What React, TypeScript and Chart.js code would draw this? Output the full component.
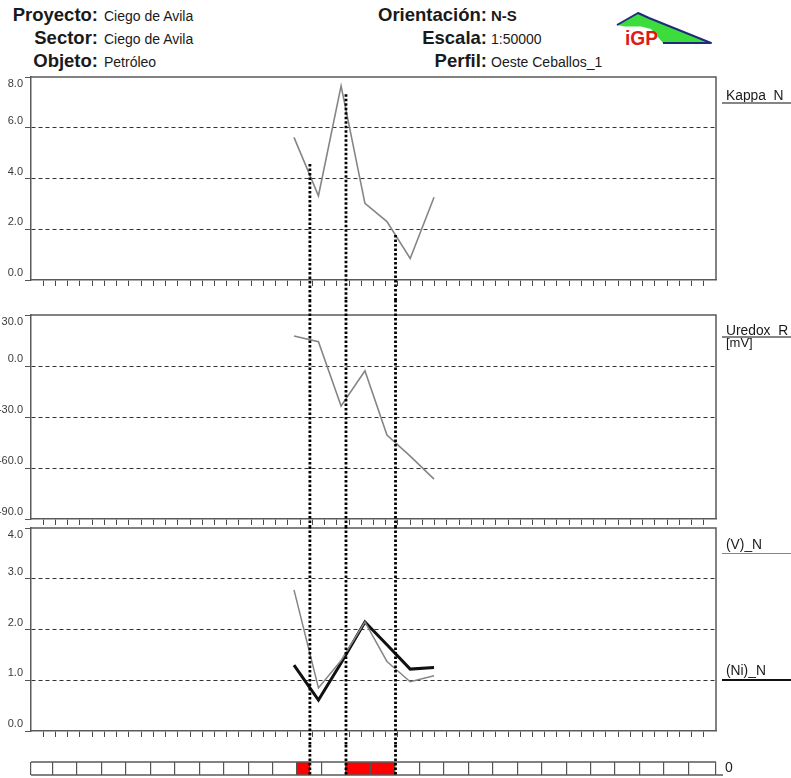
import React, { useEffect, useRef } from 'react';
import { Chart, registerables } from 'chart.js';

Chart.register(...registerables);

const FONT = "'Liberation Sans', Arial, Helvetica, sans-serif";
Chart.defaults.font.family = FONT;

// ---------------- data ----------------
const stations = [21.5, 23.5, 25.35, 27.3, 29.1, 31.0, 32.95];
const kappaN = [5.62, 3.32, 7.65, 3.02, 2.3, 0.85, 3.26];
const uredoxR = [17.6, 14.3, -23.5, -2.8, -40.6, -53.0, -66.5];
const vN = [2.78, 0.85, 1.39, 2.15, 1.37, 0.97, 1.09];
const niN = [1.3, 0.61, 1.34, 2.15, 1.7, 1.22, 1.25];

const kappaTicks = [0, 2, 4, 6, 8];
const uredoxTicks = [-90, -60, -30, 0, 30];
const metalTicks = [0, 1, 2, 3, 4];

const profileMin = 0;
const profileMax = 56;
const anomalyEdges = [22.8, 25.75, 29.8];
const anomalyEdgeTopKappa = [4.57, 7.32, 1.77];
const anomalyZones: [number, number][] = [
  [21.75, 22.8],
  [25.75, 29.75],
];
const stripLabels = ['0'];

const headerLeft = [
  { label: 'Proyecto:', value: 'Ciego de Avila' },
  { label: 'Sector:', value: 'Ciego de Avila' },
  { label: 'Objeto:', value: 'Petróleo' },
];
const headerRight = [
  { label: 'Orientación:', value: 'N-S', bold: true },
  { label: 'Escala:', value: '1:50000', bold: false },
  { label: 'Perfil:', value: 'Oeste Ceballos_1', bold: false },
];
// ---------------------------------------

const BORDER = '#5a5a5a';
const W = 791;

const xTickPositions: number[] = [];
for (let v = profileMin + 1; v < profileMax; v++) xTickPositions.push(v);
const boxEdges: number[] = [profileMin];
for (let v = 1.75; v < profileMax - 1; v += 2) boxEdges.push(v);
boxEdges.push(profileMax);

const pts = (ys: number[]) => stations.map((x, i) => ({ x, y: ys[i] }));

function drawDotted(ctx: any, px: number, top: number, bottom: number) {
  ctx.beginPath();
  ctx.moveTo(px, top);
  ctx.lineTo(px, bottom);
  ctx.stroke();
}

function panelPlugin(min: number, max: number, ticks: number[], edgeTop: number[] | null) {
  return {
    id: 'panelDeco',
    afterDatasetsDraw(chart: any) {
      const { ctx, chartArea: a, scales } = chart;
      const y = scales.y;
      const x = scales.x;
      ctx.save();
      ctx.strokeStyle = BORDER;
      ctx.lineWidth = 1.5;
      ctx.beginPath();
      ctx.moveTo(a.left - 0.75, a.top);
      ctx.lineTo(a.right, a.top);
      ctx.lineTo(a.right, a.bottom);
      ctx.stroke();

      ctx.fillStyle = '#3a3a3a';
      ctx.font = `11px ${FONT}`;
      ctx.textAlign = 'right';
      ctx.textBaseline = 'middle';
      for (const v of ticks) {
        const py = v === max ? a.top + 7 : y.getPixelForValue(v) - 7;
        ctx.fillText(v.toFixed(1), 23, py);
      }

      ctx.strokeStyle = '#000';
      ctx.lineWidth = 2.8;
      ctx.setLineDash([2.5, 2]);
      anomalyEdges.forEach((e, i) => {
        const px = x.getPixelForValue(e);
        const top = edgeTop ? y.getPixelForValue(edgeTop[i]) : 0;
        drawDotted(ctx, px, top, chart.height);
      });
      ctx.restore();
    },
  };
}

function panelConfig(p: {
  datasets: any[];
  min: number;
  max: number;
  ticks: number[];
  padTop: number;
  xAxisH: number;
  edgeTop: number[] | null;
}) {
  return {
    type: 'line',
    data: { datasets: p.datasets },
    options: {
      responsive: false,
      animation: false,
      devicePixelRatio: 1,
      layout: { padding: { top: p.padTop, right: W - 716, bottom: 0, left: 0 } },
      plugins: { legend: { display: false }, tooltip: { enabled: false } },
      elements: { point: { radius: 0 }, line: { tension: 0 } },
      scales: {
        x: {
          type: 'linear',
          min: profileMin,
          max: profileMax,
          afterBuildTicks: (s: any) => {
            s.ticks = xTickPositions.map((v) => ({ value: v }));
          },
          afterFit: (s: any) => {
            s.height = p.xAxisH;
            s.paddingLeft = 0;
            s.paddingRight = 0;
          },
          ticks: { display: false },
          grid: { drawOnChartArea: false, drawTicks: true, tickLength: 6, color: '#4a4a4a', lineWidth: 1 },
          border: { color: BORDER, width: 1.5 },
        },
        y: {
          type: 'linear',
          min: p.min,
          max: p.max,
          afterBuildTicks: (s: any) => {
            s.ticks = p.ticks.map((v) => ({ value: v }));
          },
          afterFit: (s: any) => {
            s.width = 31;
            s.paddingTop = 0;
            s.paddingBottom = 0;
          },
          ticks: { display: false },
          grid: {
            color: (c: any) =>
              c.tick && (c.tick.value === p.max || c.tick.value === p.min) ? 'rgba(0,0,0,0)' : '#333',
            tickColor: '#555',
            tickLength: 6,
            lineWidth: 1,
          },
          border: { color: BORDER, width: 1.5, dash: [4, 3] },
        },
      },
    },
    plugins: [panelPlugin(p.min, p.max, p.ticks, p.edgeTop)],
  };
}

const stripPlugin = {
  id: 'stripDeco',
  afterDraw(chart: any) {
    const { ctx, chartArea: a, scales } = chart;
    ctx.save();
    ctx.strokeStyle = BORDER;
    ctx.lineWidth = 1.5;
    ctx.beginPath();
    ctx.moveTo(a.left, a.top);
    ctx.lineTo(a.right, a.top);
    ctx.moveTo(a.left, a.bottom);
    ctx.lineTo(a.right + 7, a.bottom);
    ctx.stroke();
    ctx.strokeStyle = '#000';
    ctx.lineWidth = 2.8;
    ctx.setLineDash([2.5, 2]);
    anomalyEdges.forEach((e) => {
      drawDotted(ctx, scales.x.getPixelForValue(e), 0, a.bottom);
    });
    ctx.restore();
  },
};

function stripConfig() {
  return {
    type: 'bar',
    data: {
      labels: stripLabels,
      datasets: anomalyZones.map((z) => ({
        data: [z],
        backgroundColor: '#ff0000',
        borderWidth: 0,
        grouped: false,
        barPercentage: 1,
        categoryPercentage: 1,
      })),
    },
    options: {
      indexAxis: 'y',
      responsive: false,
      animation: false,
      devicePixelRatio: 1,
      layout: { padding: { top: 17, right: 0, bottom: 0, left: 31 } },
      plugins: { legend: { display: false }, tooltip: { enabled: false } },
      scales: {
        x: {
          type: 'linear',
          min: profileMin,
          max: profileMax,
          afterBuildTicks: (s: any) => {
            s.ticks = boxEdges.map((v) => ({ value: v }));
          },
          afterFit: (s: any) => {
            s.height = 3;
            s.paddingLeft = 0;
            s.paddingRight = 0;
          },
          ticks: { display: false },
          grid: { drawTicks: false, color: '#555', lineWidth: 1.2, z: 1 },
          border: { display: false },
        },
        y: {
          position: 'right',
          afterFit: (s: any) => {
            s.width = W - 716;
            s.paddingTop = 0;
            s.paddingBottom = 0;
          },
          grid: { display: false, drawTicks: false },
          border: { display: false },
          ticks: { padding: 9, color: '#222', font: { family: FONT, size: 14 } },
        },
      },
    },
    plugins: [stripPlugin],
  };
}

function ChartCanvas({ top, height, build }: { top: number; height: number; build: () => any }) {
  const ref = useRef<HTMLCanvasElement>(null);
  useEffect(() => {
    const chart = new Chart(ref.current as HTMLCanvasElement, build());
    return () => chart.destroy();
  }, []);
  return (
    <canvas
      ref={ref}
      width={W}
      height={height}
      style={{ position: 'absolute', left: 0, top, width: W, height, display: 'block' }}
    />
  );
}

const GRAY_LINE = '#858585';

const buildKappa = () =>
  panelConfig({
    datasets: [{ data: pts(kappaN), borderColor: GRAY_LINE, borderWidth: 1.6 }],
    min: 0,
    max: 8,
    ticks: kappaTicks,
    padTop: 7,
    xAxisH: 20,
    edgeTop: anomalyEdgeTopKappa,
  });
const buildUredox = () =>
  panelConfig({
    datasets: [{ data: pts(uredoxR), borderColor: GRAY_LINE, borderWidth: 1.6 }],
    min: -90,
    max: 30,
    ticks: uredoxTicks,
    padTop: 15,
    xAxisH: 7,
    edgeTop: null,
  });
const buildMetals = () =>
  panelConfig({
    datasets: [
      { data: pts(vN), borderColor: GRAY_LINE, borderWidth: 1.5 },
      { data: pts(niN), borderColor: '#111', borderWidth: 3 },
    ],
    min: 0,
    max: 4,
    ticks: metalTicks,
    padTop: 2,
    xAxisH: 14,
    edgeTop: null,
  });

function TextAt({ x, baseline, size, children, bold }: any) {
  return (
    <div
      style={{
        position: 'absolute',
        left: x,
        top: baseline - 0.8465 * size,
        fontSize: size,
        lineHeight: `${size}px`,
        fontWeight: bold ? 'bold' : 'normal',
        whiteSpace: 'nowrap',
        color: '#1a1a1a',
      }}
    >
      {children}
    </div>
  );
}

const rowBaselines = [21, 44.5, 67.7];

export default function App() {
  const labelSize = 18.5;
  return (
    <div
      style={{
        position: 'absolute',
        left: 0,
        top: 0,
        width: W,
        height: 778,
        background: '#fff',
        overflow: 'hidden',
        fontFamily: FONT,
        color: '#1a1a1a',
      }}
    >
      {headerLeft.map((r, i) => (
        <div
          key={'l' + i}
          style={{
            position: 'absolute',
            left: 0,
            top: rowBaselines[i] - 16.4,
            lineHeight: '20px',
            fontSize: labelSize,
            whiteSpace: 'nowrap',
          }}
        >
          <span style={{ display: 'inline-block', width: 98, textAlign: 'right', fontWeight: 'bold' }}>{r.label}</span>
          <span style={{ marginLeft: 6, fontSize: 14 }}>{r.value}</span>
        </div>
      ))}
      {headerRight.map((r, i) => (
        <div
          key={'r' + i}
          style={{
            position: 'absolute',
            left: 300,
            top: rowBaselines[i] - 16.4,
            lineHeight: '20px',
            fontSize: labelSize,
            whiteSpace: 'nowrap',
          }}
        >
          <span style={{ display: 'inline-block', width: 187, textAlign: 'right', fontWeight: 'bold' }}>{r.label}</span>
          <span style={{ marginLeft: 4, fontSize: r.bold ? 15 : 14, fontWeight: r.bold ? 'bold' : 'normal' }}>
            {r.value}
          </span>
        </div>
      ))}

      <svg
        width={105}
        height={42}
        viewBox="610 8 105 42"
        style={{ position: 'absolute', left: 610, top: 8 }}
      >
        <polygon
          points="617,25 638,13 649,18 711,43 663,43 651,29 641,26.5 625,26.5"
          fill="#3ddc3d"
        />
        <polyline
          points="617,25 638,13 649,18 711,43 663,43"
          fill="none"
          stroke="#1f2b7a"
          strokeWidth={2}
          strokeLinejoin="round"
        />
        <text
          x={625}
          y={45}
          fontSize={21}
          fontWeight="bold"
          fill="#e01818"
          fontFamily={FONT}
          textLength={33}
          lengthAdjust="spacingAndGlyphs"
        >
          iGP
        </text>
      </svg>

      <ChartCanvas top={70} height={230} build={buildKappa} />
      <ChartCanvas top={300} height={226} build={buildUredox} />
      <ChartCanvas top={526} height={219} build={buildMetals} />
      <ChartCanvas top={745} height={33} build={stripConfig} />

      <TextAt x={726} baseline={101} size={13.8}>Kappa_N</TextAt>
      <div style={{ position: 'absolute', left: 722, top: 102, width: 69, height: 1.5, background: GRAY_LINE }} />
      <TextAt x={726} baseline={335.5} size={13.8}>Uredox_R</TextAt>
      <div style={{ position: 'absolute', left: 722, top: 336, width: 69, height: 1.5, background: GRAY_LINE }} />
      <TextAt x={726} baseline={347} size={13}>[mV]</TextAt>
      <TextAt x={726} baseline={550} size={13.8}>(V)_N</TextAt>
      <div style={{ position: 'absolute', left: 722, top: 552.5, width: 69, height: 1.5, background: GRAY_LINE }} />
      <TextAt x={726} baseline={676} size={13.8}>(Ni)_N</TextAt>
      <div style={{ position: 'absolute', left: 722, top: 678.5, width: 69, height: 2.5, background: '#111' }} />
    </div>
  );
}
